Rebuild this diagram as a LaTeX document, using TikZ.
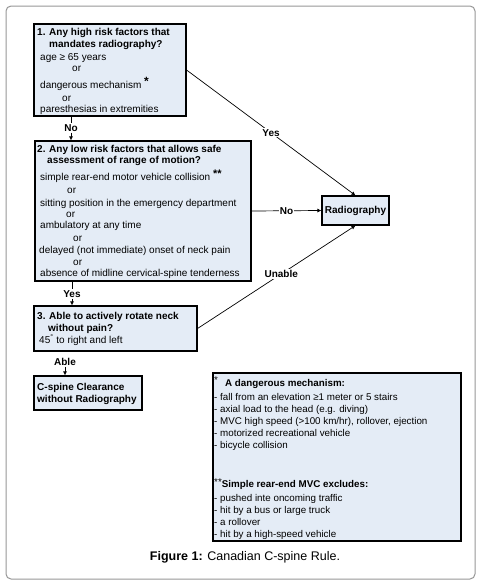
\documentclass[tikz,border=0pt]{standalone}
\usepackage{fontspec}
\setmainfont{Liberation Sans}
\usetikzlibrary{arrows.meta}
\definecolor{boxfill}{RGB}{228,236,246}
\definecolor{framegray}{RGB}{150,150,150}
\begin{document}
\begin{tikzpicture}[x=1pt,y=-1pt,
  box/.style={draw=black, line width=1.1pt, fill=boxfill, inner sep=0pt},
  txt/.style={anchor=base west, inner sep=0pt, font=\fontsize{10}{12}\selectfont},
  hd/.style={anchor=base west, inner sep=0pt, font=\fontsize{10}{12}\selectfont\bfseries},
  fnt/.style={anchor=base west, inner sep=0pt, font=\fontsize{9.8}{12}\selectfont},
  lbl/.style={font=\fontsize{10}{12}\selectfont\bfseries, fill=white, inner sep=1pt},
  vlbl/.style={font=\fontsize{10}{12}\selectfont\bfseries, inner sep=1pt},
  conn/.style={draw=black, line width=0.7pt},
  arr/.style={draw=black, line width=0.7pt, -{Latex[length=4pt,width=4pt]}}]
\useasboundingbox (0,0) rectangle (479,587);
\draw[framegray, line width=1pt, rounded corners=5pt] (6,6) rectangle (475,579);

% Box 1
\node[box, minimum width=152pt, minimum height=92pt] (b1) at (110,70) {};
\node[hd] (b1l1) at (37,35.6) {1. Any high risk factors that};
\node[hd] (b1l2) at (49,47.6) {mandates radiography?};
\node[txt] (b1l3) at (40,60.5) {age ≥ 65 years};
\node[txt] (b1l4) at (72,71) {or};
\node[txt] (b1l5) at (40,88) {dangerous mechanism \raisebox{3pt}{\fontsize{12}{12}\selectfont\bfseries *}};
\node[txt] (b1l6) at (62,101.3) {or};
\node[txt] (b1l7) at (40,112.5) {paresthesias in extremities};

% Box 2
\node[box, minimum width=216pt, minimum height=140pt] (b2) at (143,211) {};
\node[hd] (b2l1) at (37,152.6) {2. Any low risk factors that allows safe};
\node[hd] (b2l2) at (47,163.6) {assessment of range of motion?};
\node[txt] (b2l3) at (40,180.3) {simple rear-end motor vehicle collision \raisebox{3pt}{\fontsize{11}{11}\selectfont\bfseries **}};
\node[txt] (b2l4) at (67,193) {or};
\node[txt] (b2l5) at (40,206) {sitting position in the emergency department};
\node[txt] (b2l6) at (66,217.6) {or};
\node[txt] (b2l7) at (40,228.6) {ambulatory at any time};
\node[txt] (b2l8) at (73,241.6) {or};
\node[txt] (b2l9) at (39,253.6) {delayed (not immediate) onset of neck pain};
\node[txt] (b2l10) at (73,265.6) {or};
\node[txt] (b2l11) at (40,276.6) {absence of midline cervical-spine tenderness};

% Box 3
\node[box, minimum width=163pt, minimum height=45pt] (b3) at (115.5,328.5) {};
\node[hd] (b3l1) at (37,319.3) {3. Able to actively rotate neck};
\node[hd] (b3l2) at (48,331.9) {without pain?};
\node[txt] (b3l3) at (39,343.6) {45\textsuperscript{°} to right and left};

% Box 4
\node[box, minimum width=108pt, minimum height=34pt] (b4) at (88,393) {};
\node[hd] (b4l1) at (37,390.6) {C-spine Clearance};
\node[hd] (b4l2) at (37,402.6) {without Radiography};

% Radiography
\node[box, minimum width=67pt, minimum height=29pt, font=\fontsize{10}{12}\selectfont\bfseries] (rad) at (355.5,210.5) {Radiography};

% Footnote box
\node[box, minimum width=248pt, minimum height=168pt] (fn) at (337,457) {};
\node[fnt] (fnstar) at (214,385) {\raisebox{2pt}{*}};
\node[fnt, font=\fontsize{9.8}{12}\selectfont\bfseries] (fnh1) at (225,386.6) {A dangerous mechanism:};
\node[fnt] (fn1) at (214,400.6) {- fall from an elevation ≥1 meter or 5 stairs};
\node[fnt] (fn2) at (214,412.6) {- axial load to the head (e.g. diving)};
\node[fnt] (fn3) at (214,424.6) {- MVC high speed (>100 km/hr), rollover, ejection};
\node[fnt] (fn4) at (214,436.6) {- motorized recreational vehicle};
\node[fnt] (fn5) at (214,448.6) {- bicycle collision};
\node[fnt] (fnh2) at (214,487.6) {\raisebox{2pt}{**}\textbf{Simple rear-end MVC excludes:}};
\node[fnt] (fn6) at (214,501.6) {- pushed inte oncoming traffic};
\node[fnt] (fn7) at (214,513.6) {- hit by a bus or large truck};
\node[fnt] (fn8) at (214,525.6) {- a rollover};
\node[fnt] (fn9) at (214,537.6) {- hit by a high-speed vehicle};

% Caption
\node[font=\fontsize{12.5}{14}\selectfont, inner sep=0pt] (cap) at (245,557) {\textbf{Figure 1:} Canadian C-spine Rule.};

% Connectors to Radiography
\draw[arr] (b1.east) -- node[lbl] (lyes2) {Yes} (rad.north);
\draw[arr] (b2.east) -- node[lbl] (lno2) {No} (rad.west);
\draw[arr] (b3.east) -- node[lbl, pos=0.53] (lunable) {Unable} (rad.south);

% Vertical flow
\node[vlbl] (lno1) at (71,128) {No};
\draw[conn] (lno1 |- b1.south) -- (lno1.north);
\draw[arr] (lno1.south) -- (lno1 |- b2.north);

\node[vlbl] (lyes1) at (72,294) {Yes};
\draw[conn] (lyes1 |- b2.south) -- (lyes1.north);
\draw[arr] (lyes1.south) -- (lyes1 |- b3.north);

\node[vlbl] (lable) at (65,362) {Able};
\draw[arr] (lable.south) -- (lable |- b4.north);
\end{tikzpicture}
\end{document}
